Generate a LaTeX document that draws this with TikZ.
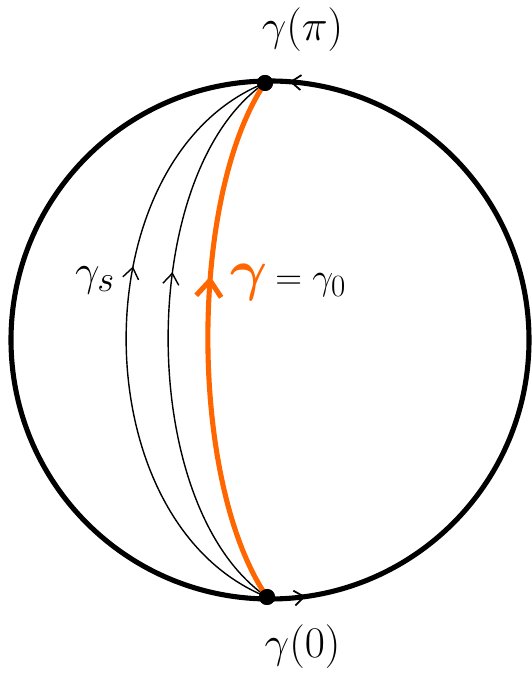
\documentclass[tikz,border=0pt]{standalone}
\usepackage{xcolor}
\usepackage{amsmath,amssymb}
\usetikzlibrary{arrows.meta,decorations.markings}
\definecolor{geoorange}{RGB}{255,102,0}

\begin{document}
\begin{tikzpicture}[
  sphere/.style={line width=2.9pt},
  pole/.style={circle,fill=black,inner sep=0pt,minimum size=0.32cm},
  thin/.style={line width=0.8pt,postaction={decorate},
    decoration={markings,mark=at position 0.62 with {\arrow{Straight Barb[length=2.2mm,width=3.2mm]}}}},
  geo/.style={geoorange,line width=2.9pt,postaction={decorate},
    decoration={markings,mark=at position 0.62 with {\arrow{Straight Barb[length=3.2mm,width=5mm]}}}},
  lbl/.style={font=\fontsize{28}{30}\selectfont}
]
  \useasboundingbox (0,0) rectangle (10.62,13.54);
  % sphere with its orientation ticks
  \coordinate (c) at (5.4,6.74);
  \draw[sphere,postaction={decorate},
    decoration={markings,
      mark=at position 0.238 with {\arrow{Straight Barb[length=2mm,width=3mm,line width=1pt]}},
      mark=at position 0.772 with {\arrow{Straight Barb[length=2mm,width=3mm,line width=1pt]}}}]
    (c) circle[radius=5.18];
  \node[pole] (top) at (5.3,11.88) {};
  \node[pole] (bot) at (5.34,1.6) {};
  % family of curves
  \draw[thin] (bot.center) .. controls (1.59,3.1) and (1.59,10.4) .. (top.center);
  \draw[thin] (bot.center) .. controls (2.71,3.4) and (2.71,10.1) .. (top.center);
  \draw[geo] (bot.center) .. controls (3.77,3.9) and (3.77,9.6) .. (top.center);
  \node[pole] at (top) {};
  \node[pole] at (bot) {};
  % labels
  \node[lbl] (gpi) at (6.05,12.95) {$\gamma(\pi)$};
  \node[lbl] (gzero) at (6.05,0.6) {$\gamma(0)$};
  \node[lbl] (gs) at (1.9,7.94) {$\gamma_s$};
  \node[lbl,text=geoorange,scale=1.3] (g) at (4.98,7.9) {$\boldsymbol{\gamma}$};
  \node[lbl,anchor=west,scale=0.85] (geq) at (5.4,7.84) {$=\gamma_0$};
\end{tikzpicture}
\end{document}
